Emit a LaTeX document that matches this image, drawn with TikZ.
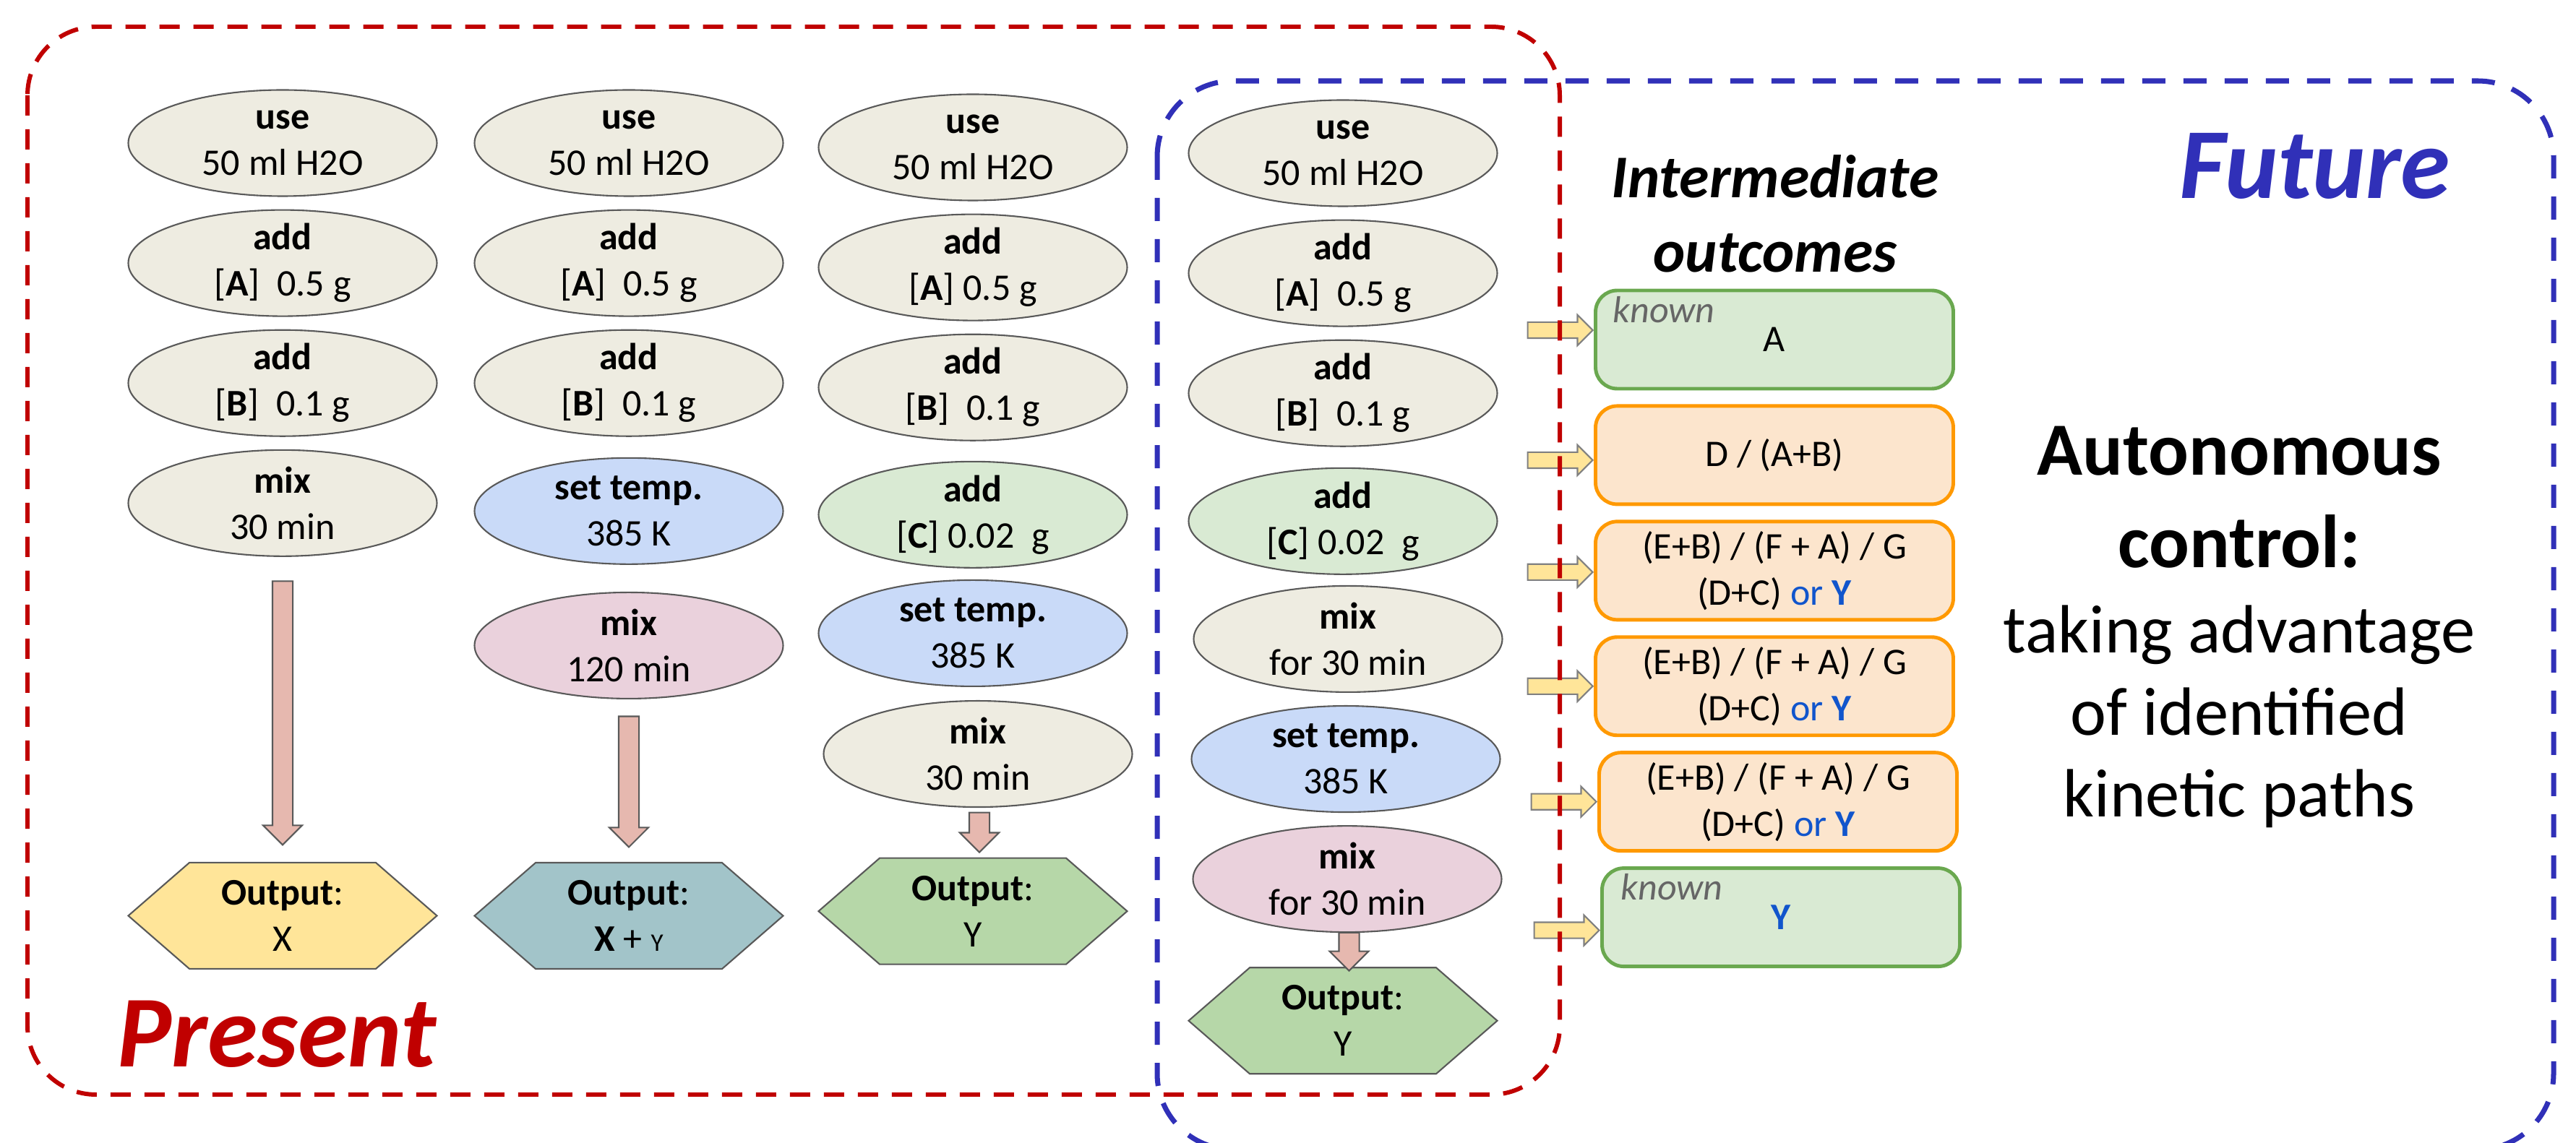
\documentclass[tikz,border=0pt]{standalone}
\usepackage{fontspec}
\setmainfont{Carlito}
\usetikzlibrary{shapes.geometric, shapes.symbols, shapes.arrows, positioning}

\definecolor{cream}{HTML}{EEECE1}
\definecolor{heatblue}{HTML}{C9DAF8}
\definecolor{mixpink}{HTML}{EAD1DC}
\definecolor{addgreen}{HTML}{D9EAD3}
\definecolor{outyellow}{HTML}{FFE599}
\definecolor{outteal}{HTML}{A2C4C9}
\definecolor{outgreen}{HTML}{B6D7A8}
\definecolor{flowpink}{HTML}{E6B8AF}
\definecolor{knowngreen}{HTML}{6AA84F}
\definecolor{knownfill}{HTML}{D9EAD3}
\definecolor{guessorange}{HTML}{FF9900}
\definecolor{guessfill}{HTML}{FCE5CD}
\definecolor{ytext}{HTML}{1155CC}
\definecolor{presentred}{HTML}{C00000}
\definecolor{futureblue}{HTML}{3030B8}
\definecolor{edgegray}{HTML}{595959}

\begin{document}
\begin{tikzpicture}[
  node distance=0.17cm,
  every node/.style={font=\fontsize{0.52cm}{0.64cm}\selectfont},
  op/.style={ellipse, draw=edgegray, line width=0.6pt, fill=cream, minimum width=4.27cm, minimum height=1.47cm, inner sep=-0.3cm, align=center},
  opheat/.style={op, fill=heatblue},
  opmix/.style={op, fill=mixpink},
  opadd/.style={op, fill=addgreen},
  hexout/.style={signal, signal to=west and east, signal pointer angle=82, draw=edgegray, line width=0.6pt, minimum width=4.27cm, minimum height=1.47cm, inner sep=0pt, align=center},
  flow/.style={single arrow, draw=edgegray, fill=flowpink, line width=0.6pt, inner xsep=0pt, inner ysep=0.13cm, single arrow head extend=0.13cm, single arrow tip angle=90, rotate=-90},
  feed/.style={single arrow, draw=gray, fill=outyellow, line width=0.6pt, minimum height=0.9cm, inner xsep=0pt, inner ysep=0.1cm, single arrow head extend=0.1cm, single arrow tip angle=90},
  outcome/.style={rectangle, rounded corners=0.3cm, line width=1.4pt, minimum width=4.95cm, minimum height=1.36cm, inner sep=0pt, align=center},
  known/.style={outcome, draw=knowngreen, fill=knownfill},
  guess/.style={outcome, draw=guessorange, fill=guessfill},
  knowntag/.style={inner sep=0pt, text=black!60, font=\fontsize{0.52cm}{0.64cm}\selectfont\itshape}
]
\useasboundingbox (0,0) rectangle (35.64,15.81);
\fill[white] (0,0) rectangle (35.64,15.81);

% present: column 1
\node[op] (use1) at (3.91,13.83) {\textbf{use}\\50 ml H2O};
\node[op, below=of use1] (addA1) {\textbf{add}\\{}[\textbf{A}]~~0.5 g};
\node[op, below=of addA1] (addB1) {\textbf{add}\\{}[\textbf{B}]~~0.1 g};
\node[op, below=of addB1] (mix1) {\textbf{mix}\\30 min};
\node[hexout, fill=outyellow, below=4.22cm of mix1] (out1) {\textbf{Output}:\\X};

% present: column 2
\node[op] (use2) at (8.70,13.83) {\textbf{use}\\50 ml H2O};
\node[op, below=of use2] (addA2) {\textbf{add}\\{}[\textbf{A}]~~0.5 g};
\node[op, below=of addA2] (addB2) {\textbf{add}\\{}[\textbf{B}]~~0.1 g};
\node[opheat, below=0.28cm of addB2] (temp2) {\textbf{set temp.}\\385 K};
\node[opmix, below=0.37cm of temp2] (mix2) {\textbf{mix}\\120 min};
\node[hexout, fill=outteal, below=2.25cm of mix2] (out2) {\textbf{Output}:\\\textbf{X} + {\fontsize{0.35cm}{0.4cm}\selectfont Y}};

% present: column 3
\node[op] (use3) at (13.46,13.77) {\textbf{use}\\50 ml H2O};
\node[op, below=of use3] (addA3) {\textbf{add}\\{}[\textbf{A}] 0.5 g};
\node[op, below=of addA3] (addB3) {\textbf{add}\\{}[\textbf{B}]~~0.1 g};
\node[opadd, below=0.27cm of addB3] (addC3) {\textbf{add}\\{}[\textbf{C}] 0.02~~g};
\node[opheat, below=0.15cm of addC3] (temp3) {\textbf{set temp.}\\385 K};
\node[op, below=0.18cm of temp3, xshift=0.07cm] (mix3) {\textbf{mix}\\30 min};
\node[hexout, fill=outgreen, below=0.685cm of mix3, xshift=-0.07cm] (out3) {\textbf{Output}:\\Y};

% future: column 4
\node[op] (use4) at (18.58,13.69) {\textbf{use}\\50 ml H2O};
\node[op, below=of use4] (addA4) {\textbf{add}\\{}[\textbf{A}]~~0.5 g};
\node[op, below=of addA4] (addB4) {\textbf{add}\\{}[\textbf{B}]~~0.1 g};
\node[opadd, below=0.28cm of addB4] (addC4) {\textbf{add}\\{}[\textbf{C}] 0.02~~g};
\node[op, below=0.14cm of addC4, xshift=0.07cm] (mixa4) {\textbf{mix}\\for 30 min};
\node[opheat, below=of mixa4, xshift=-0.03cm] (temp4) {\textbf{set temp.}\\385 K};
\node[opmix, below=of temp4, xshift=0.02cm] (mixb4) {\textbf{mix}\\for 30 min};
\node[hexout, fill=outgreen, below=0.47cm of mixb4, xshift=-0.06cm] (out4) {\textbf{Output}:\\Y};

% block arrows down to the outputs
\node[flow, minimum height=3.65cm, anchor=tip] (fl1) at ([yshift=0.22cm]out1.north) {};
\node[flow, minimum height=1.81cm, anchor=tip] (fl2) at ([yshift=0.19cm]out2.north) {};
\node[flow, minimum height=0.55cm, anchor=tip] (fl3) at ([xshift=0.09cm,yshift=0.055cm]out3.north) {};
\node[flow, minimum height=0.53cm, anchor=tip] (fl4) at ([xshift=0.085cm,yshift=-0.07cm]out4.north) {};

% intermediate outcomes
\node[font=\fontsize{0.84cm}{1.03cm}\selectfont\bfseries\itshape, align=center, anchor=north, inner sep=0pt] (inter) at (24.56,13.67) {Intermediate\\outcomes};
\node[known] (k1) at (24.55,11.11) {A};
\node[guess, below=0.19cm of k1] (k2) {D / (A+B)};
\node[guess, below=0.19cm of k2] (k3) {(E+B) / (F + A) / G\\(D+C) \textcolor{ytext}{or \textbf{Y}}};
\node[guess, below=0.19cm of k3] (k4) {(E+B) / (F + A) / G\\(D+C) \textcolor{ytext}{or \textbf{Y}}};
\node[guess, below=0.19cm of k4, xshift=0.05cm] (k5) {(E+B) / (F + A) / G\\(D+C) \textcolor{ytext}{or \textbf{Y}}};
\node[known, below=0.19cm of k5, xshift=0.04cm] (k6) {\textcolor{ytext}{\textbf{Y}}};
\node[knowntag, anchor=north west] (t1) at ([xshift=0.26cm,yshift=-0.10cm]k1.north west) {known};
\node[knowntag, anchor=north west] (t6) at ([xshift=0.28cm,yshift=-0.10cm]k6.north west) {known};

% yellow feed arrows
\node[feed, left=0cm of k1, yshift=0.13cm] (f1) {};
\node[feed, left=0cm of k2, yshift=-0.07cm] (f2) {};
\node[feed, left=0cm of k3, yshift=-0.02cm] (f3) {};
\node[feed, left=0cm of k4] (f4) {};
\node[feed, left=0cm of k5] (f5) {};
\node[feed, left=0cm of k6, yshift=-0.18cm] (f6) {};

% titles
\node[font=\fontsize{1.41cm}{1.7cm}\selectfont\bfseries\itshape, text=presentred, anchor=base west, inner sep=0pt] (present) at (1.62,1.05) {Present};
\node[font=\fontsize{1.39cm}{1.7cm}\selectfont\bfseries\itshape, text=futureblue, anchor=base west, inner sep=0pt] (future) at (30.15,13.06) {Future};
\node[font=\fontsize{1.04cm}{1.28cm}\selectfont\bfseries, align=center, anchor=north, inner sep=0pt] (auto) at (30.98,9.92) {Autonomous\\control:};
\node[font=\fontsize{0.945cm}{1.135cm}\selectfont, align=center, anchor=north, inner sep=0pt, below=0.51cm of auto] (paths) {taking advantage\\of identified\\kinetic paths};

% frames
\draw[futureblue, line width=2pt, dash pattern=on 0.32cm off 0.25cm, rounded corners=1.05cm] (16.01,14.69) rectangle (35.33,-0.10);
\draw[presentred, line width=1.7pt, dash pattern=on 0.28cm off 0.19cm, rounded corners=0.95cm] (0.38,15.44) rectangle (21.58,0.66);
\end{tikzpicture}
\end{document}
